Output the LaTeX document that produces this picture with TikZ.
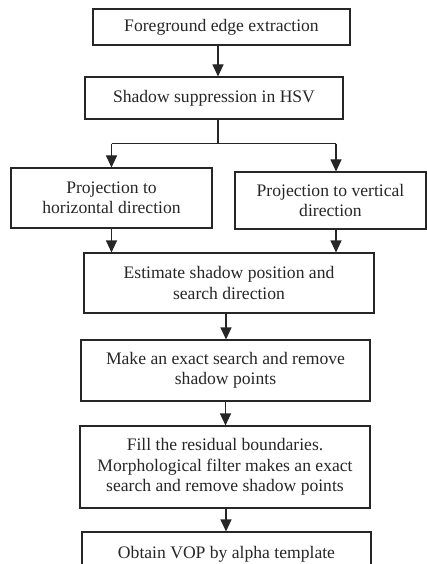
\documentclass[tikz,border=0pt]{standalone}
\usepackage{fontspec}
\setmainfont{Liberation Serif}
\usetikzlibrary{arrows.meta}
\begin{document}
\begin{tikzpicture}[x=1pt,y=-1pt,
  box/.style={draw=black!85,line width=1.1pt,rectangle,inner sep=0pt,align=center,
    font=\fontsize{17.6}{20.5}\selectfont,text=black!85},
  arr/.style={draw=black!85,line width=1.1pt,-{Triangle[width=11pt,length=12pt]}},
  ln/.style={draw=black!85,line width=1.1pt}]
\useasboundingbox (0,0) rectangle (427,564);
\begin{scope}
\clip (0,0) rectangle (427,564);
\node[box,minimum width=257pt,minimum height=36pt] (b1) at (221.5,27) {Foreground edge extraction};
\node[box,minimum width=258pt,minimum height=42pt] (b2) at (214,98) {Shadow suppression in HSV};
\node[box,minimum width=201pt,minimum height=60pt] (b3) at (111.5,198) {Projection to\\horizontal direction};
\node[box,minimum width=191pt,minimum height=57pt] (b4) at (330.5,200.5) {Projection to vertical\\direction};
\node[box,minimum width=290pt,minimum height=60pt] (b5) at (229,283) {Estimate shadow position and\\search direction};
\node[box,minimum width=289pt,minimum height=61pt] (b6) at (225.5,370.5) {Make an exact search and remove\\shadow points};
\node[box,minimum width=290pt,minimum height=82pt] (b7) at (225,467) {Fill the residual boundaries.\\Morphological filter makes an exact\\search and remove shadow points};
\node[box,minimum width=289pt,minimum height=44pt] (b8) at (226.5,554) {Obtain VOP by alpha template};
\end{scope}
\coordinate (c1) at ([xshift=-3.5pt]b1.south);
\draw[arr] (c1) -- (c1 |- b2.north);
\coordinate (s0) at ([xshift=4pt]b2.south);
\coordinate (sm) at ([yshift=-24pt]s0);
\coordinate (sl) at (sm -| b3.north);
\coordinate (sr) at ([xshift=5.5pt]sm -| b4.north);
\draw[ln] (s0) -- (sm);
\draw[ln] (sl) -- (sr);
\draw[arr] (sl) -- (b3.north);
\draw[arr] (sr) -- (sr |- b4.north);
\draw[arr] (b3.south) -- (b3.south |- b5.north);
\coordinate (c4) at ([xshift=5.5pt]b4.south);
\draw[arr] (c4) -- (c4 |- b5.north);
\coordinate (c5) at ([xshift=-3pt]b5.south);
\draw[arr] (c5) -- (c5 |- b6.north);
\coordinate (c6) at (b6.south);
\draw[arr] (c6) -- (c6 |- b7.north);
\coordinate (c7) at ([xshift=1pt]b7.south);
\draw[arr] (c7) -- (c7 |- b8.north);
\end{tikzpicture}
\end{document}
